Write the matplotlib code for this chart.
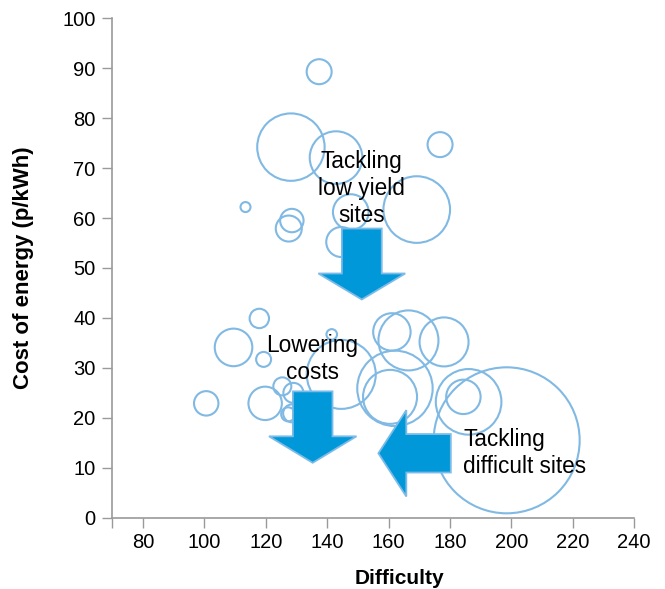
import matplotlib
matplotlib.use("Agg")
import matplotlib.pyplot as plt
from matplotlib.patches import FancyArrow

# bubble data: difficulty, cost of energy (p/kWh), relative bubble size
difficulty = [137.4, 128.2, 142.9, 176.8, 169.2, 147.7, 113.4, 128.5, 127.5, 144.6,
              117.9, 109.5, 119.3, 141.5, 100.6, 119.8, 144.6, 125.4, 129.0, 128.6,
              127.3, 161.1, 166.5, 178.1, 162.1, 160.5, 186.1, 184.4, 198.5]
cost = [89.3, 74.2, 72.1, 74.7, 61.7, 61.2, 62.2, 59.5, 57.9, 55.2,
        39.9, 34.1, 31.7, 36.7, 22.9, 22.9, 28.7, 26.3, 25.0, 20.9,
        20.7, 37.2, 35.5, 35.2, 25.9, 24.2, 23.2, 24.2, 15.5]
size = [15.6, 113.6, 69.2, 15.6, 110.9, 31.7, 2.5, 13.7, 16.9, 22.5,
        9.4, 35.3, 5.6, 2.8, 14.9, 27.9, 119.0, 8.1, 10.0, 8.1,
        4.9, 35.0, 90.0, 60.0, 142.1, 72.9, 107.6, 29.6, 532.9]

x_ticks = [70, 80, 100, 120, 140, 160, 180, 200, 220, 240]
x_labels = ["", "80", "100", "120", "140", "160", "180", "200", "220", "240"]
y_ticks = list(range(0, 101, 10))

bubble_col = "#80b9e3"
arrow_fill = "#0098d8"
arrow_edge = "#7cbbe8"
axis_col = "#9a9a9a"
font = "Liberation Sans"

fig = plt.figure(figsize=(6.65, 5.89), dpi=100)
ax = fig.add_axes([0.1689, 0.121, 0.7845, 0.848])

# marker area in points^2 from relative size (radius px = sqrt(10*size))
s = [10 * v * (0.72 ** 2) * 4 for v in size]
ax.scatter(difficulty, cost, s=s, facecolors="none", edgecolors=bubble_col,
           linewidths=1.5, zorder=2, clip_on=False)

# arrows
arr = dict(length_includes_head=True, facecolor=arrow_fill, edgecolor=arrow_edge,
           linewidth=1.3, zorder=3)
ax.add_patch(FancyArrow(151.3, 57.9, 0, -14.2, width=13, head_width=28.3,
                        head_length=5.2, **arr))
ax.add_patch(FancyArrow(135.3, 25.3, 0, -14.3, width=12.9, head_width=28.5,
                        head_length=5.3, **arr))
ax.add_patch(FancyArrow(180.3, 12.9, -23.6, 0, width=7.7, head_width=17.3,
                        head_length=9.1, **arr))

txt = dict(fontsize=16.3, family=font, color="black", zorder=4, linespacing=1.22)
ax.text(151.2, 66.0, "Tackling\nlow yield\nsites", ha="center", va="center", **txt)
ax.text(135.1, 31.7, "Lowering\ncosts", ha="center", va="center", **txt)
ax.text(184.3, 13.0, "Tackling\ndifficult sites", ha="left", va="center", **txt)

ax.set_xlim(70, 240)
ax.set_ylim(0, 100)
ax.set_xticks(x_ticks)
ax.set_xticklabels(x_labels)
ax.set_yticks(y_ticks)

for side in ["top", "right"]:
    ax.spines[side].set_visible(False)
for side in ["left", "bottom"]:
    ax.spines[side].set_color(axis_col)
    ax.spines[side].set_linewidth(1.2)
ax.tick_params(colors=axis_col, length=7, width=1.0, labelcolor="black",
               labelsize=14.5, pad=4)
ax.tick_params(axis="y", pad=5)
for lab in ax.get_xticklabels() + ax.get_yticklabels():
    lab.set_family(font)

ax.set_xlabel("Difficulty", fontsize=15, fontweight="bold", family=font)
ax.set_ylabel("Cost of energy (p/kWh)", fontsize=16, fontweight="bold", family=font)
ax.xaxis.set_label_coords(0.55, -0.103)
ax.yaxis.set_label_coords(-0.15, 0.5)

fig.savefig("out.png", dpi=100)
